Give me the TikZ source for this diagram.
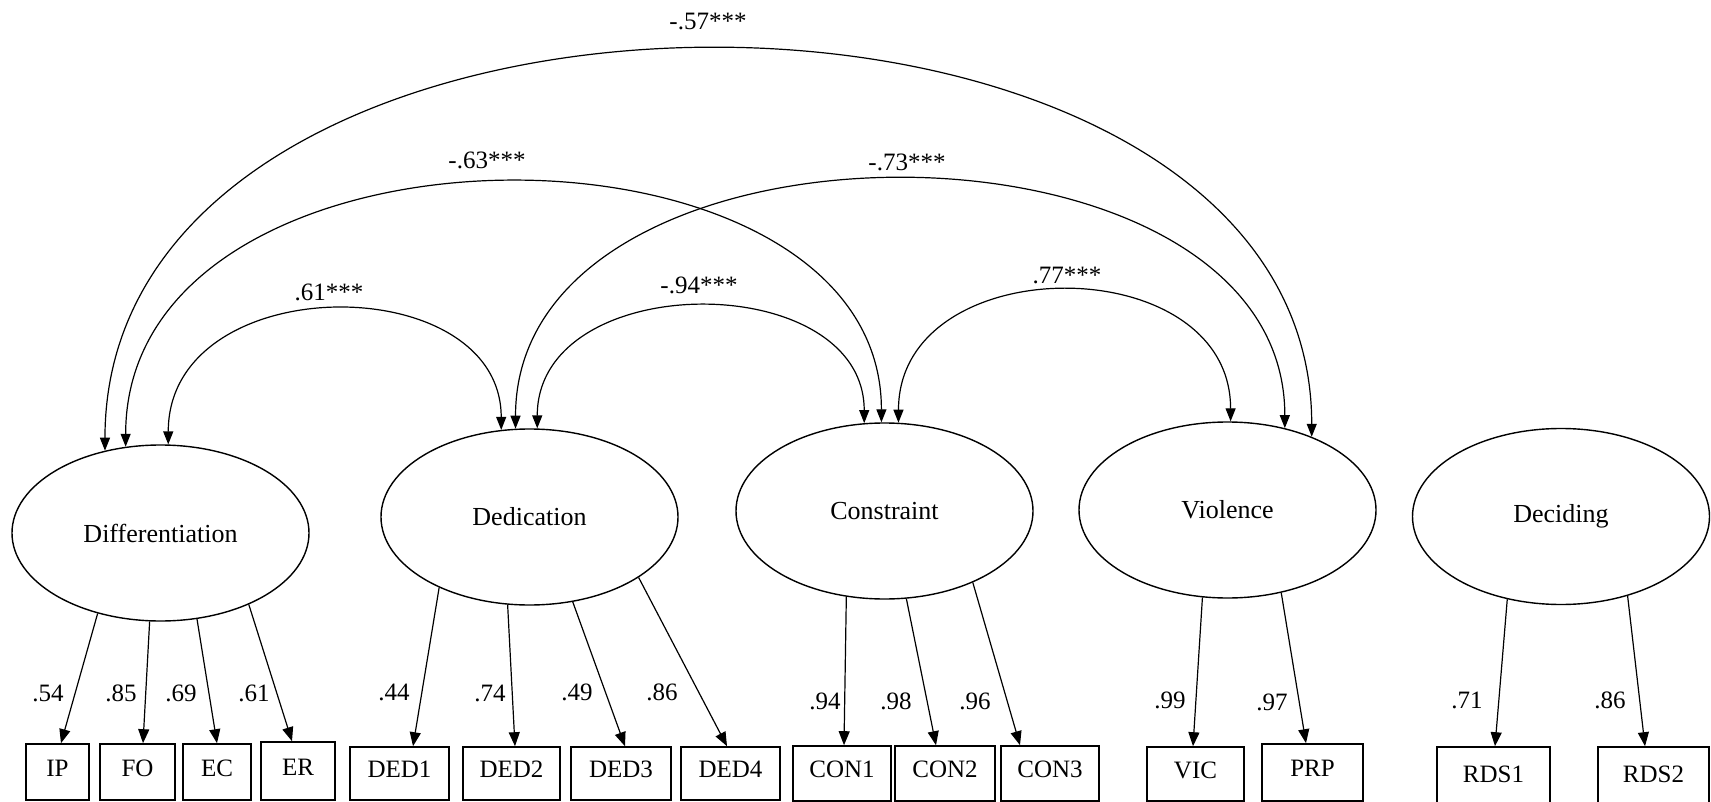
\documentclass[tikz,border=0pt]{standalone}
\usepackage{fontspec}
\setmainfont{Liberation Serif}
\usetikzlibrary{arrows.meta,calc,shapes.geometric}
\begin{document}
\begin{tikzpicture}[x=1pt,y=-1pt,
  latent/.style={draw, ellipse, line width=1.4pt, minimum width=297pt, minimum height=176pt, inner sep=0pt, font=\fontsize{26}{30}\selectfont},
  obs/.style={draw, rectangle, line width=1.6pt, inner sep=0pt, font=\fontsize{25}{30}\selectfont, text height=17pt, text depth=9pt},
  load/.style={line width=1.2pt, -{Triangle[length=14pt,width=11pt]}},
  cov/.style={line width=1.2pt, {Triangle[length=13pt,width=10pt]}-{Triangle[length=13pt,width=10pt]}},
  num/.style={font=\fontsize{25}{30}\selectfont, inner sep=0pt}
]
\fill[white] (0,0) rectangle (1711,802);
\useasboundingbox (0,0) rectangle (1711,802);

% latent variables
\node[latent] (diff) at (160.5,533) {Differentiation};
\node[latent] (ded)  at (529.5,517) {Dedication};
\node[latent] (con)  at (884.5,511) {Constraint};
\node[latent] (vio)  at (1227.5,510) {Violence};
\node[latent] (dec)  at (1561,516.5) {Deciding};

% observed variables
\node[obs, minimum width=63pt,  minimum height=56pt] (ip)   at (57.5,772)   {IP};
\node[obs, minimum width=75pt,  minimum height=56pt] (fo)   at (137.5,772)  {FO};
\node[obs, minimum width=68pt,  minimum height=56pt] (ec)   at (217,772)    {EC};
\node[obs, minimum width=74pt,  minimum height=58pt] (er)   at (298,771)    {ER};
\node[obs, minimum width=99pt,  minimum height=53pt] (ded1) at (399.5,773.5) {DED1};
\node[obs, minimum width=97pt,  minimum height=53pt] (ded2) at (511.5,773.5) {DED2};
\node[obs, minimum width=100pt, minimum height=53pt] (ded3) at (621,773.5)   {DED3};
\node[obs, minimum width=99pt,  minimum height=53pt] (ded4) at (730.5,773.5) {DED4};
\node[obs, minimum width=98pt,  minimum height=55pt] (con1) at (842,773.5)   {CON1};
\node[obs, minimum width=100pt, minimum height=55pt] (con2) at (945,773.5)   {CON2};
\node[obs, minimum width=98pt,  minimum height=55pt] (con3) at (1050,773.5)  {CON3};
\node[obs, minimum width=97pt,  minimum height=54pt] (vic)  at (1195.5,774)  {VIC};
\node[obs, minimum width=101pt, minimum height=57pt] (prp)  at (1312.5,772.5) {PRP};
\node[obs, minimum width=113pt, minimum height=63pt] (rds1) at (1493.5,778.5) {RDS1};
\node[obs, minimum width=111pt, minimum height=63pt] (rds2) at (1653.5,778.5) {RDS2};

% loadings
\draw[load] (diff.-128.1) -- ($(ip.north)+(3.5,0)$);
\draw[load] (diff.-97.5)  -- ($(fo.north)+(5.5,0)$);
\draw[load] (diff.-67.5)  -- (ec.north);
\draw[load] (diff.-39.6)  -- ($(er.north)+(-6,0)$);
\draw[load] (ded.-142.4)  -- ($(ded1.north)+(13.5,0)$);
\draw[load] (ded.-104.5)  -- ($(ded2.north)+(3.5,0)$);
\draw[load] (ded.-63.2)   -- ($(ded3.north)+(4,0)$);
\draw[load] (ded.-29.0)   -- ($(ded4.north)+(-3.5,0)$);
\draw[load] (con.-114.9)  -- ($(con1.north)+(2,0)$);
\draw[load] (con.-76.1)   -- ($(con2.north)+(-9,0)$);
\draw[load] (con.-39.7)   -- ($(con3.north)+(-30,0)$);
\draw[load] (vio.-106.4)  -- ($(vic.north)+(-2.5,0)$);
\draw[load] (vio.-57.5)   -- ($(prp.north)+(-6.5,0)$);
\draw[load] (dec.-123.8)  -- ($(rds1.north)+(1.5,0)$);
\draw[load] (dec.-50.2)   -- ($(rds2.north)+(-8.5,0)$);

% loading labels
\node[num] (n1)  at (48,693)   {.54};
\node[num] (n2)  at (121,693)  {.85};
\node[num] (n3)  at (181,693)  {.69};
\node[num] (n4)  at (254,693)  {.61};
\node[num] (n5)  at (394,692)  {.44};
\node[num] (n6)  at (490,693)  {.74};
\node[num] (n7)  at (577,692)  {.49};
\node[num] (n8)  at (662,692)  {.86};
\node[num] (n9)  at (825,701)  {.94};
\node[num] (n10) at (896,701)  {.98};
\node[num] (n11) at (975,701)  {.96};
\node[num] (n12) at (1170,700) {.99};
\node[num] (n13) at (1272,702) {.97};
\node[num] (n14) at (1467,700) {.71};
\node[num] (n15) at (1610,700) {.86};

% covariances
\draw[cov] (diff.85.8)  .. controls +(0,-176.4) and +(0,-162.1) .. (ded.108.9);
\draw[cov] (diff.112.5) .. controls +(0,-347.2) and +(0,-322.7) .. (con.92.9);
\draw[cov] (diff.124.8) .. controls +(0,-531.7) and +(0,-517.3) .. (vio.41.1);
\draw[cov] (ded.85.8)   .. controls +(0,-160.7) and +(0,-155.3) .. (con.103.2);
\draw[cov] (ded.99.4)   .. controls +(0,-331.1) and +(0,-330.3) .. (vio.55.2);
\draw[cov] (con.81.9)   .. controls +(0,-174.9) and +(0,-173.6) .. (vio.88.4);

% covariance labels
\node[num] (c1) at (329,292)  {.61***};
\node[num] (c2) at (487,160)  {-.63***};
\node[num] (c3) at (708,21)   {-.57***};
\node[num] (c4) at (699,285)  {-.94***};
\node[num] (c5) at (907,162)  {-.73***};
\node[num] (c6) at (1067,275) {.77***};
\end{tikzpicture}
\end{document}
